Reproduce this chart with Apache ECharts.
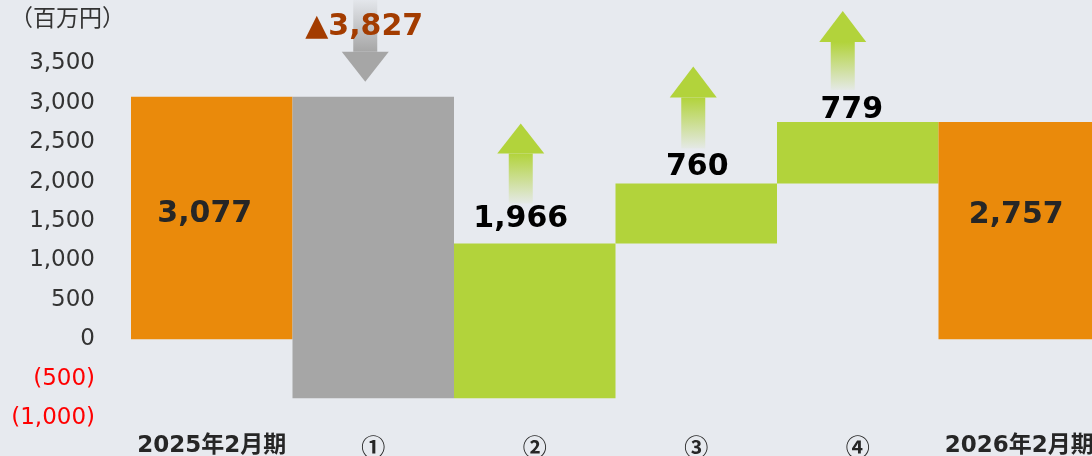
<!DOCTYPE html>
<html>
<head>
<meta charset="utf-8">
<script src="https://cdn.jsdelivr.net/npm/echarts@6/dist/echarts.min.js"></script>
<style>
  html, body { margin: 0; padding: 0; background: #e7eaef; }
  #chart { width: 1092px; height: 456px; }
</style>
</head>
<body>
<div id="chart"></div>
<script>
// 区分
var categories = ['2025年2月期', '①', '②', '③', '④', '2026年2月期'];
// 増減 (百万円)
var startValue = 3077;
var changes = [-3827, 1966, 760, 779];
var endValue = 2757;
var valueLabels = ['3,077', '▲3,827', '1,966', '760', '779', '2,757'];
var yTicks = [-1000, -500, 0, 500, 1000, 1500, 2000, 2500, 3000, 3500];

var barColors = ['#ea8a0b', '#a6a6a6', '#b2d33b', '#b2d33b', '#b2d33b', '#ea8a0b'];
var labelColors = ['#262626', '#a33c00', '#000000', '#000000', '#000000', '#262626'];
// ラベル位置の微調整 (px)
var labelDx = [-7, -9, -14, 1, -6, -3];
var labelDy = [-4, -70, -24, -16, -12, -15];

// 棒の下端・上端
var bars = [[0, 0, startValue]];
var run = startValue;
changes.forEach(function (c, i) {
  var next = run + c;
  bars.push([i + 1, Math.min(run, next), Math.max(run, next)]);
  run = next;
});
bars.push([categories.length - 1, 0, endValue]);

// 矢印 (棒上端からのpx)  dir: 1 上, -1 下
var arrows = [
  { cat: 1, dir: -1, dx: -8, tip: 15, base: 45, tail: 97 },
  { cat: 2, dir: 1, dx: -14, tip: 120, base: 90, tail: 40 },
  { cat: 3, dir: 1, dx: -3, tip: 117, base: 86, tail: 35 },
  { cat: 4, dir: 1, dx: -15, tip: 111, base: 80, tail: 32 }
];

var chart = echarts.init(document.getElementById('chart'));

function renderBar(params, api) {
  var idx = api.value(0);
  var top = api.coord([idx, api.value(2)]);
  var bottom = api.coord([idx, api.value(1)]);
  var w = api.size([1, 0])[0];
  var children = [{
    type: 'rect',
    shape: { x: top[0] - w / 2, y: top[1], width: w, height: bottom[1] - top[1] },
    style: { fill: barColors[idx] }
  }];
  var a = arrows.filter(function (r) { return r.cat === idx; })[0];
  if (a) {
    var cx = top[0] + a.dx;
    var tipY = top[1] - a.tip, baseY = top[1] - a.base, tailY = top[1] - a.tail;
    var col = barColors[idx];
    var rgb = echarts.color.parse(col);
    var fade = 'rgba(' + rgb[0] + ',' + rgb[1] + ',' + rgb[2] + ',0.05)';
    var y0 = Math.min(baseY, tailY), y1 = Math.max(baseY, tailY);
    children.push({
      type: 'rect',
      shape: { x: cx - 12, y: y0, width: 24, height: y1 - y0 },
      style: {
        fill: new echarts.graphic.LinearGradient(0, 0, 0, 1, a.dir > 0
          ? [{ offset: 0, color: col }, { offset: 1, color: fade }]
          : [{ offset: 0, color: fade }, { offset: 1, color: col }])
      }
    });
    children.push({
      type: 'polygon',
      shape: { points: [[cx - 23.5, baseY], [cx + 23.5, baseY], [cx, tipY]] },
      style: { fill: col }
    });
  }
  var labelAnchor = (idx === 0 || idx === categories.length - 1)
    ? (top[1] + bottom[1]) / 2 : top[1];
  children.push({
    type: 'text',
    z2: 10,
    style: {
      text: valueLabels[idx],
      x: top[0] + labelDx[idx],
      y: labelAnchor + labelDy[idx],
      align: 'center',
      verticalAlign: 'middle',
      font: 'bold 30px "DejaVu Sans", "Noto Sans CJK JP"',
      fill: labelColors[idx]
    }
  });
  return { type: 'group', children: children };
}

var option = {
  backgroundColor: '#e7eaef',
  animation: false,
  grid: { left: 131, width: 969, top: 24, bottom: 38, outerBoundsMode: 'none', containLabel: false },
  graphic: [{
    type: 'text',
    left: 10,
    top: 6,
    style: {
      text: '（百万円）',
      font: '23px "Noto Sans CJK JP"',
      fill: '#333333'
    }
  }],
  xAxis: {
    type: 'category',
    data: categories,
    axisLine: { show: false },
    axisTick: { show: false },
    axisLabel: {
      interval: 0,
      hideOverlap: false,
      margin: 17,
      color: '#262626',
      fontWeight: 'bold',
      fontSize: 23,
      fontFamily: '"DejaVu Sans", "Noto Sans CJK JP"',
      formatter: function (v) {
        return /^[①-⑳]$/.test(v) ? '{c|' + v + '}' : v;
      },
      rich: {
        c: {
          fontFamily: '"Noto Sans CJK JP"',
          fontWeight: 'bold',
          fontSize: 24,
          color: '#262626'
        }
      }
    }
  },
  yAxis: {
    type: 'value',
    min: -1000,
    max: 4000,
    interval: 500,
    splitLine: { show: false },
    axisLine: { show: false },
    axisTick: { show: false },
    axisLabel: {
      margin: 36,
      fontSize: 23,
      fontFamily: '"DejaVu Sans", sans-serif',
      padding: [0, 0, 8, 0],
      color: function (v) { return v < 0 ? '#ff0000' : '#333333'; },
      formatter: function (v) {
        if (yTicks.indexOf(v) < 0) return '';
        var s = Math.abs(v).toLocaleString('en-US');
        return v < 0 ? '(' + s + ')' : s;
      }
    }
  },
  series: [{
    type: 'custom',
    renderItem: renderBar,
    data: bars
  }]
};

chart.setOption(option);
</script>
</body>
</html>
